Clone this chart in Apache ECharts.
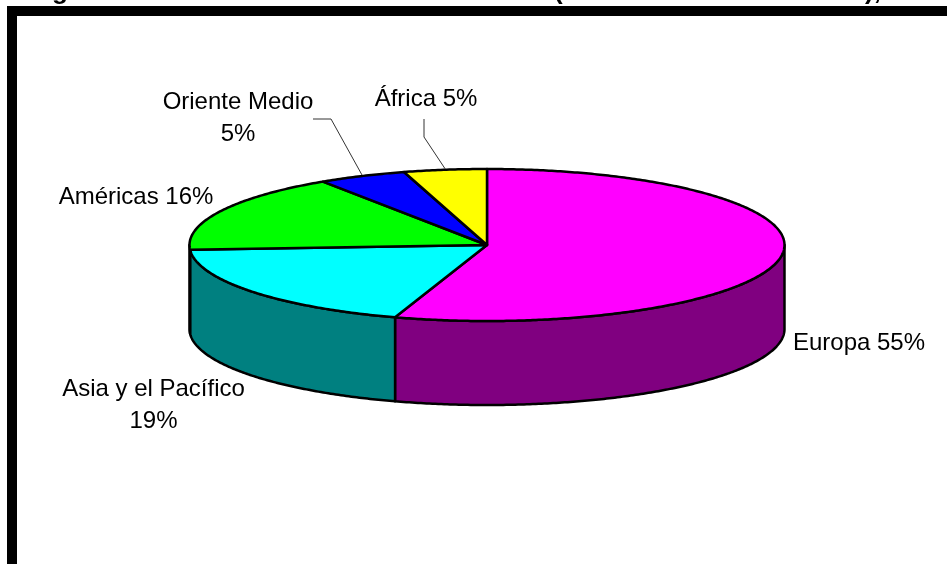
<!DOCTYPE html>
<html>
<head>
<meta charset="utf-8">
<style>html,body{margin:0;padding:0;background:#fff}#c{width:947px;height:564px}</style>
<script src="https://cdn.jsdelivr.net/npm/echarts@6/dist/echarts.min.js"></script>
</head>
<body>
<div id="c"></div>
<script>
// Data (clockwise from 12 o'clock)
const regions = ['Europa', 'Asia y el Pacífico', 'Américas', 'Oriente Medio', 'África'];
const shares = [55, 19, 16.7, 4.8, 4.5];
const topColors = ['#FF00FF', '#00FFFF', '#00FF00', '#0000FF', '#FFFF00'];
const sideColors = ['#800080', '#008080', '#008000', '#000080', '#808000'];
const titleFragments = ['g', '(', '),'];

// Layout
const pie = { cx: 487, cy: 245, rx: 297.5, ry: 76, depth: 84 };
const labelLayout = [
  { lines: ['Europa 55%'], x: 859, y: [343] },
  { lines: ['Asia y el Pacífico', '19%'], x: 153.5, y: [389, 421] },
  { lines: ['Américas 16%'], x: 136, y: [197] },
  { lines: ['Oriente Medio', '5%'], x: 238, y: [102, 134] },
  { lines: ['África 5%'], x: 426, y: [99] }
];
const leaderLayout = { 3: [[331, 119], [313, 119]], 4: [[424, 137], [424, 119]] };
const fragmentLayout = [{ x: 52 }, { x: 554 }, { x: 865 }];

const total = shares.reduce((a, b) => a + b, 0);
let acc = 0;
const slices = shares.map((v, i) => {
  const start = acc / total * 2 * Math.PI;
  acc += v;
  return { start, end: acc / total * 2 * Math.PI, i };
});
const pt = (a, dy) => [pie.cx + pie.rx * Math.sin(a), pie.cy - pie.ry * Math.cos(a) + (dy || 0)];
const arc = (a0, a1, dy) => {
  const n = Math.max(2, Math.ceil((a1 - a0) / 0.01));
  const out = [];
  for (let k = 0; k <= n; k++) out.push(pt(a0 + (a1 - a0) * k / n, dy));
  return out;
};
const edge = { stroke: '#000', lineWidth: 2.5, lineJoin: 'round' };
const sliceData = slices.map(s => [s.start, s.end, s.i]);

const sideSeries = {
  type: 'custom', coordinateSystem: 'none', silent: true, data: sliceData, z: 2,
  renderItem(params, api) {
    const a0 = Math.max(api.value(0), Math.PI / 2);
    const a1 = Math.min(api.value(1), Math.PI * 1.5);
    if (a1 <= a0) return null;
    const front = arc(a0, a1, 0);
    const back = arc(a0, a1, pie.depth).reverse();
    return { type: 'polygon', shape: { points: front.concat(back) },
      style: Object.assign({ fill: sideColors[api.value(2)] }, edge) };
  }
};
const topSeries = {
  type: 'custom', coordinateSystem: 'none', silent: true, data: sliceData, z: 3,
  renderItem(params, api) {
    const pts = [[pie.cx, pie.cy]].concat(arc(api.value(0), api.value(1), 0));
    return { type: 'polygon', shape: { points: pts },
      style: Object.assign({ fill: topColors[api.value(2)] }, edge) };
  }
};
const leaderSeries = {
  type: 'custom', coordinateSystem: 'none', silent: true, data: sliceData, z: 4,
  renderItem(params, api) {
    const tail = leaderLayout[api.value(2)];
    if (!tail) return null;
    const anchor = pt((api.value(0) + api.value(1)) / 2, -1);
    return { type: 'polyline', shape: { points: [anchor].concat(tail) },
      style: { stroke: '#333', lineWidth: 1, fill: null } };
  }
};

const labelGraphics = [];
labelLayout.forEach(l => l.lines.forEach((t, k) => labelGraphics.push({
  type: 'text', x: l.x, y: l.y[k], silent: true,
  style: { text: t, font: '24px "Liberation Sans", Arial, sans-serif', fill: '#000',
    align: 'center', verticalAlign: 'middle' }
})));
const fragmentGraphics = titleFragments.map((t, i) => ({
  type: 'text', x: fragmentLayout[i].x, y: 5, silent: true,
  style: { text: t, font: 'bold 26px "Liberation Sans", Arial, sans-serif', fill: '#000',
    align: 'left', verticalAlign: 'bottom' }
}));
const frameGraphics = [
  { type: 'rect', shape: { x: 7, y: 6, width: 940, height: 10 }, style: { fill: '#000' }, silent: true },
  { type: 'rect', shape: { x: 7, y: 6, width: 10, height: 558 }, style: { fill: '#000' }, silent: true }
];

const chart = echarts.init(document.getElementById('c'), null, { renderer: 'canvas' });
chart.setOption({
  animation: false,
  backgroundColor: '#fff',
  graphic: { elements: frameGraphics.concat(fragmentGraphics, labelGraphics) },
  series: [sideSeries, topSeries, leaderSeries]
});
</script>
</body>
</html>
